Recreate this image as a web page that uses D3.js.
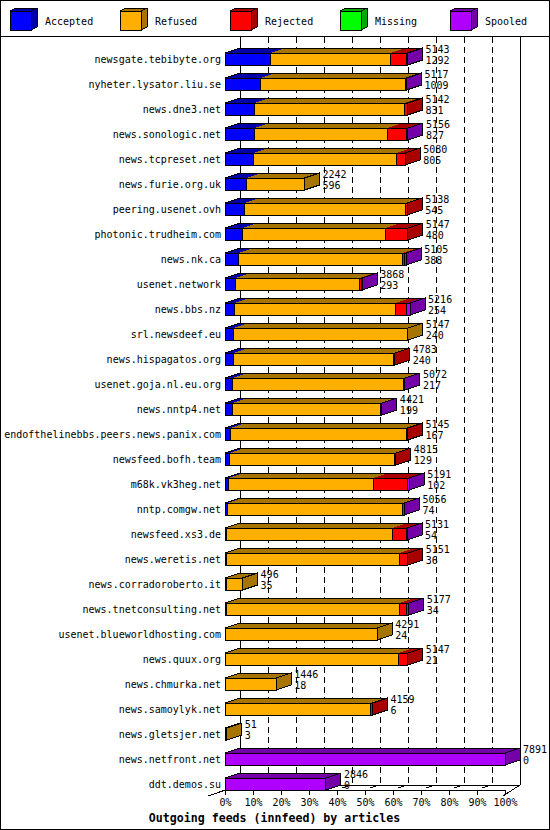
<!DOCTYPE html>
<html>
<head>
<meta charset="utf-8">
<script src="https://cdn.jsdelivr.net/npm/d3@7"></script>
<style>
body{margin:0;background:#fff}
svg{display:block}
text{font-family:"DejaVu Sans Mono",monospace;font-size:10px;fill:#000}
</style>
</head>
<body>
<div id="chart"></div>
<script>
var hosts = ["newsgate.tebibyte.org","nyheter.lysator.liu.se","news.dne3.net","news.sonologic.net",
    "news.tcpreset.net","news.furie.org.uk","peering.usenet.ovh","photonic.trudheim.com","news.nk.ca",
    "usenet.network","news.bbs.nz","srl.newsdeef.eu","news.hispagatos.org","usenet.goja.nl.eu.org",
    "news.nntp4.net","endofthelinebbs.peers.news.panix.com","newsfeed.bofh.team","m68k.vk3heg.net",
    "nntp.comgw.net","newsfeed.xs3.de","news.weretis.net","news.corradoroberto.it","news.tnetconsulting.net",
    "usenet.blueworldhosting.com","news.quux.org","news.chmurka.net","news.samoylyk.net","news.gletsjer.net",
    "news.netfront.net","ddt.demos.su"];
var accepted = [1292,1009,831,827,805,596,545,480,388,293,254,240,240,217,199,167,129,102,74,54,36,35,34,24,21,18,6,3,0,0];
var refused  = [3370,4068,4241,3755,4015,1646,4548,4037,4612,3510,4552,4907,4513,4805,4192,4948,4646,4071,4927,4657,4875,461,4878,4267,4866,1428,4103,48,0,0];
var rejected = [450,0,70,530,260,0,45,630,65,40,320,0,30,0,0,30,40,958,0,395,240,0,215,0,260,0,50,0,0,0];
var missing  = [0,0,0,0,0,0,0,0,0,0,0,0,0,0,0,0,0,0,0,0,0,0,0,0,0,0,0,0,0,0];
var spooled  = [31,40,0,44,0,0,0,0,40,25,90,0,0,50,30,0,0,60,55,25,0,0,50,0,0,0,0,0,7891,2846];

var seriesNames  = ["Accepted","Refused","Rejected","Missing","Spooled"];
var seriesColors = ["#0000ff","#ffaf00","#ff0000","#00ff00","#af00ff"];
var seriesShades = ["#0000a8","#a87400","#a80000","#00a800","#7400a8"];
var tickPct = [0,10,20,30,40,50,60,70,80,90,100];
var chartTitle = "Outgoing feeds (innfeed) by articles";

var W = 550, H = 830, dx = 15, dy = 5, barH = 12;
var gridTop = 37, floorY = 785;

// table for d3.stack
var rows = hosts.map(function(h,i){
    return {host:h, Accepted:accepted[i], Refused:refused[i], Rejected:rejected[i], Missing:missing[i], Spooled:spooled[i]};
});
var totals = rows.map(function(r){ return d3.sum(seriesNames, function(k){ return r[k]; }); });
var stacked = d3.stack().keys(seriesNames)(rows);

var svg = d3.select("#chart").append("svg").attr("width",W).attr("height",H)
    .style("shape-rendering","crispEdges");

var x = d3.scaleLinear().domain([0,d3.max(totals)]).range([225,505]);
var pct = d3.scaleLinear().domain([0,100]).range([225,505]);
var y = d3.scaleBand().domain(hosts).range([47,797]);

function poly(pts){ return pts.map(function(p){return p.join(",");}).join(" "); }

// border + legend separator
svg.append("rect").attr("x",0.5).attr("y",0.5).attr("width",W-1).attr("height",H-1)
    .style("fill","none").style("stroke","#000");
svg.append("line").attr("x1",0).attr("x2",W).attr("y1",36.5).attr("y2",36.5).style("stroke","#000");

// legend
var leg = svg.append("g").selectAll("g").data(seriesNames).enter().append("g")
    .attr("transform",function(d,i){ return "translate("+(10+110*i)+",0)"; });
leg.append("polygon").attr("points",poly([[0,11],[6,8],[27,8],[27,27],[21,30],[0,30]]))
    .style("fill",function(d,i){return seriesShades[i];}).style("stroke","#000");
leg.append("rect").attr("x",0).attr("y",11).attr("width",21).attr("height",19)
    .style("fill",function(d,i){return seriesColors[i];}).style("stroke","#000");
leg.append("line").attr("x1",21).attr("y1",11).attr("x2",27).attr("y2",8).style("stroke","#000");
leg.append("text").attr("x",35).attr("y",21).attr("dy","0.35em").text(function(d){return d;});

// back wall grid
var grid = svg.append("g");
grid.selectAll("line").data(tickPct).enter().append("line")
    .attr("x1",function(d){return pct(d)+dx;}).attr("x2",function(d){return pct(d)+dx;})
    .attr("y1",gridTop).attr("y2",floorY)
    .style("stroke","#000")
    .style("stroke-dasharray",function(d){ return (d===0||d===100) ? null : "6,4"; });
grid.append("line").attr("x1",pct(0)+dx).attr("x2",pct(100)+dx).attr("y1",floorY).attr("y2",floorY).style("stroke","#000");
// slanted ticks on the floor
grid.selectAll("path.ft").data(tickPct.slice(1,10)).enter().append("path").attr("class","ft")
    .attr("d",function(d){ var p=pct(d); return "M"+(p+5)+","+(floorY+3)+"L"+(p+11)+","+(floorY+1); })
    .style("stroke","#000");
// floor depth edges
svg.append("line").attr("x1",pct(0)-17).attr("y1",796).attr("x2",pct(0)+dx).attr("y2",floorY).style("stroke","#000");
svg.append("line").attr("x1",pct(100)-2).attr("y1",796).attr("x2",pct(100)+dx).attr("y2",floorY).style("stroke","#000");

// host labels
svg.append("g").selectAll("text").data(hosts).enter().append("text")
    .attr("x",221).attr("y",function(d){return y(d)+12.5;}).attr("dy","0.35em")
    .style("text-anchor","end").text(function(d){return d;});

// bars
hosts.forEach(function(h,i){
    var g = svg.append("g").attr("class","bar");
    var top = y(h)+6;
    var last = -1;
    stacked.forEach(function(layer,k){
        var v0 = layer[i][0], v1 = layer[i][1];
        if(v1-v0 <= 0) return;
        last = k;
        var x0 = x(v0), x1 = x(v1);
        g.append("polygon").attr("points",poly([[x0,top],[x0+dx,top-dy],[x1+dx,top-dy],[x1,top]]))
            .style("fill",seriesShades[k]);
        g.append("rect").attr("x",x0).attr("y",top).attr("width",x1-x0).attr("height",barH)
            .style("fill",seriesColors[k]).style("stroke","#000");
    });
    var xe = x(totals[i]);
    g.append("polygon").attr("points",poly([[x(0),top],[x(0)+dx,top-dy],[xe+dx,top-dy],[xe,top]]))
        .style("fill","none").style("stroke","#000");
    g.append("polygon").attr("points",poly([[xe,top],[xe+dx,top-dy],[xe+dx,top-dy+barH],[xe,top+barH]]))
        .style("fill",seriesShades[last]).style("stroke","#000");
    g.append("text").attr("x",xe+dx+3).attr("y",top-4).attr("dy","0.35em").text(totals[i]);
    g.append("text").attr("x",xe+dx+3).attr("y",top+7.5).attr("dy","0.35em").text(accepted[i]);
});

// value axis (front)
var axis = d3.axisBottom(pct).tickValues(tickPct).tickFormat(function(d){return d+"%";})
    .tickSize(5).tickSizeOuter(0).tickPadding(4);
var ax = svg.append("g").attr("transform","translate(0,790)").call(axis);
ax.attr("font-family",null).attr("font-size",null);
ax.selectAll("path,line").style("stroke","#000");

svg.append("text").attr("x",274.5).attr("y",818).attr("dy","0.35em")
    .style("text-anchor","middle").style("font-weight","bold").style("font-size","11.6px")
    .text(chartTitle);
</script>
</body>
</html>
